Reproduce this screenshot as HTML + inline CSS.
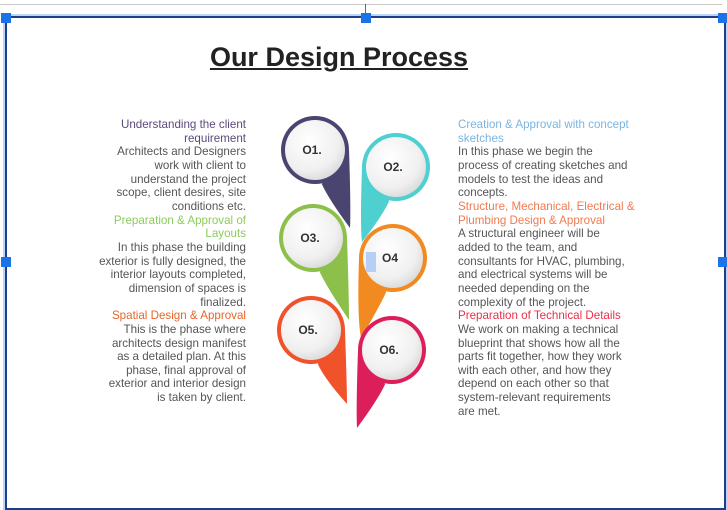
<!DOCTYPE html>
<html><head><meta charset="utf-8"><style>
body{margin:0;width:727px;height:499px;background:#fff;position:relative;overflow:hidden;font-family:"Liberation Sans",sans-serif}
.abs{position:absolute}
.col{position:absolute;font-size:11.6px;line-height:13.65px;color:#555;white-space:pre}
.l{text-align:right}
.h{display:block}
.hd{position:absolute;background:#1a73e8;width:10px;height:10px}
</style></head><body>
<div class="abs" style="left:0;top:4px;width:722px;height:1px;background:#c8c8c8"></div>
<div class="abs" style="left:5px;top:16px;width:717px;height:490px;border:2px solid #1d3f8a;box-shadow:0 0 0 2px #bcd4f5"></div>
<div class="abs" style="left:365px;top:4px;width:1px;height:12px;background:#1a73e8"></div>
<div class="hd" style="left:1px;top:13px"></div>
<div class="hd" style="left:361px;top:13px"></div>
<div class="hd" style="left:718px;top:13px"></div>
<div class="hd" style="left:1px;top:257px"></div>
<div class="hd" style="left:718px;top:257px"></div>

<div class="abs" style="left:0;width:678px;text-align:center;top:42px;font-size:27px;font-weight:bold;color:#222;text-decoration:underline">Our Design Process</div>

<div class="col l" style="right:481px;top:118px"><span style="color:#5b4a7d">Understanding the client
requirement</span>
Architects and Designers
work with client to
understand the project
scope, client desires, site
conditions etc.
<span style="color:#8ccc5a">Preparation &amp; Approval of
Layouts</span>
In this phase the building
exterior is fully designed, the
interior layouts completed,
dimension of spaces is
finalized.
<span style="color:#e8652a">Spatial Design &amp; Approval</span>
This is the phase where
architects design manifest
as a detailed plan. At this
phase, final approval of
exterior and interior design
is taken by client.</div>

<div class="col" style="left:458px;top:118px"><span style="color:#7ab5e0">Creation &amp; Approval with concept
sketches</span>
In this phase we begin the
process of creating sketches and
models to test the ideas and
concepts.
<span style="color:#f07a50">Structure, Mechanical, Electrical &amp;
Plumbing Design &amp; Approval</span>
A structural engineer will be
added to the team, and
consultants for HVAC, plumbing,
and electrical systems will be
needed depending on the
complexity of the project.
<span style="color:#e8304a">Preparation of Technical Details</span>
We work on making a technical
blueprint that shows how all the
parts fit together, how they work
with each other, and how they
depend on each other so that
system-relevant requirements
are met.</div>

<svg class="abs" style="left:0;top:0" width="727" height="499">
<defs><radialGradient id="g" cx="0.4" cy="0.35" r="0.7"><stop offset="0" stop-color="#fff"/><stop offset="0.7" stop-color="#f0f0f0"/><stop offset="1" stop-color="#d8d8d8"/></radialGradient></defs>
<g id="pins"></g>
</svg>
<div class="abs" style="left:366px;top:252px;width:10px;height:20px;background:#b8cff5"></div>
<script>
const labels=["O1.","O2.","O3.","O4","O5.","O6."];
const colors=["#4a4570","#4ecfd0","#8cc04a","#f28a22","#f0522a","#dc1f5a"];
const cx=[315,396,313,393,311,392];
const cy=[150,167,238,258,330,350];
const tipX=[350,362,349,361,347,357];
const tipY=[228,242,320,338,404,428];
const g=document.getElementById('pins');
const ns='http://www.w3.org/2000/svg';
for(let i=0;i<6;i++){
  const r=34,x=cx[i],y=cy[i],tx=tipX[i],ty=tipY[i];
  const right=tx>x;
  const p=document.createElementNS(ns,'path');
  const a1x=right?x+r:x-r, b1x=right?x+r*0.2:x-r*0.2;
  p.setAttribute('d',`M${a1x},${y} Q${right?x+r+2:x-r-2},${y+r+25} ${tx},${ty} Q${right?x+r*0.4:x-r*0.4},${y+r+15} ${b1x},${y+r} Z`);
  p.setAttribute('fill',colors[i]);
  
  
  g.appendChild(p);
  const c=document.createElementNS(ns,'circle');
  c.setAttribute('cx',x);c.setAttribute('cy',y);c.setAttribute('r',r);c.setAttribute('fill',colors[i]);
  
  
  g.appendChild(c);
  const w=document.createElementNS(ns,'circle');
  w.setAttribute('cx',x);w.setAttribute('cy',y);w.setAttribute('r',r-4);w.setAttribute('fill','url(#g)');
  
  
  g.appendChild(w);
  const t=document.createElementNS(ns,'text');
  t.setAttribute('x',x-3);t.setAttribute('y',y+4);t.setAttribute('text-anchor','middle');
  t.setAttribute('font-size','12');t.setAttribute('font-weight','bold');t.setAttribute('fill','#333');
  t.setAttribute('font-family','Liberation Sans, sans-serif');
  t.textContent=labels[i];
  
  
  g.appendChild(t);
}
</script>
</body></html>
